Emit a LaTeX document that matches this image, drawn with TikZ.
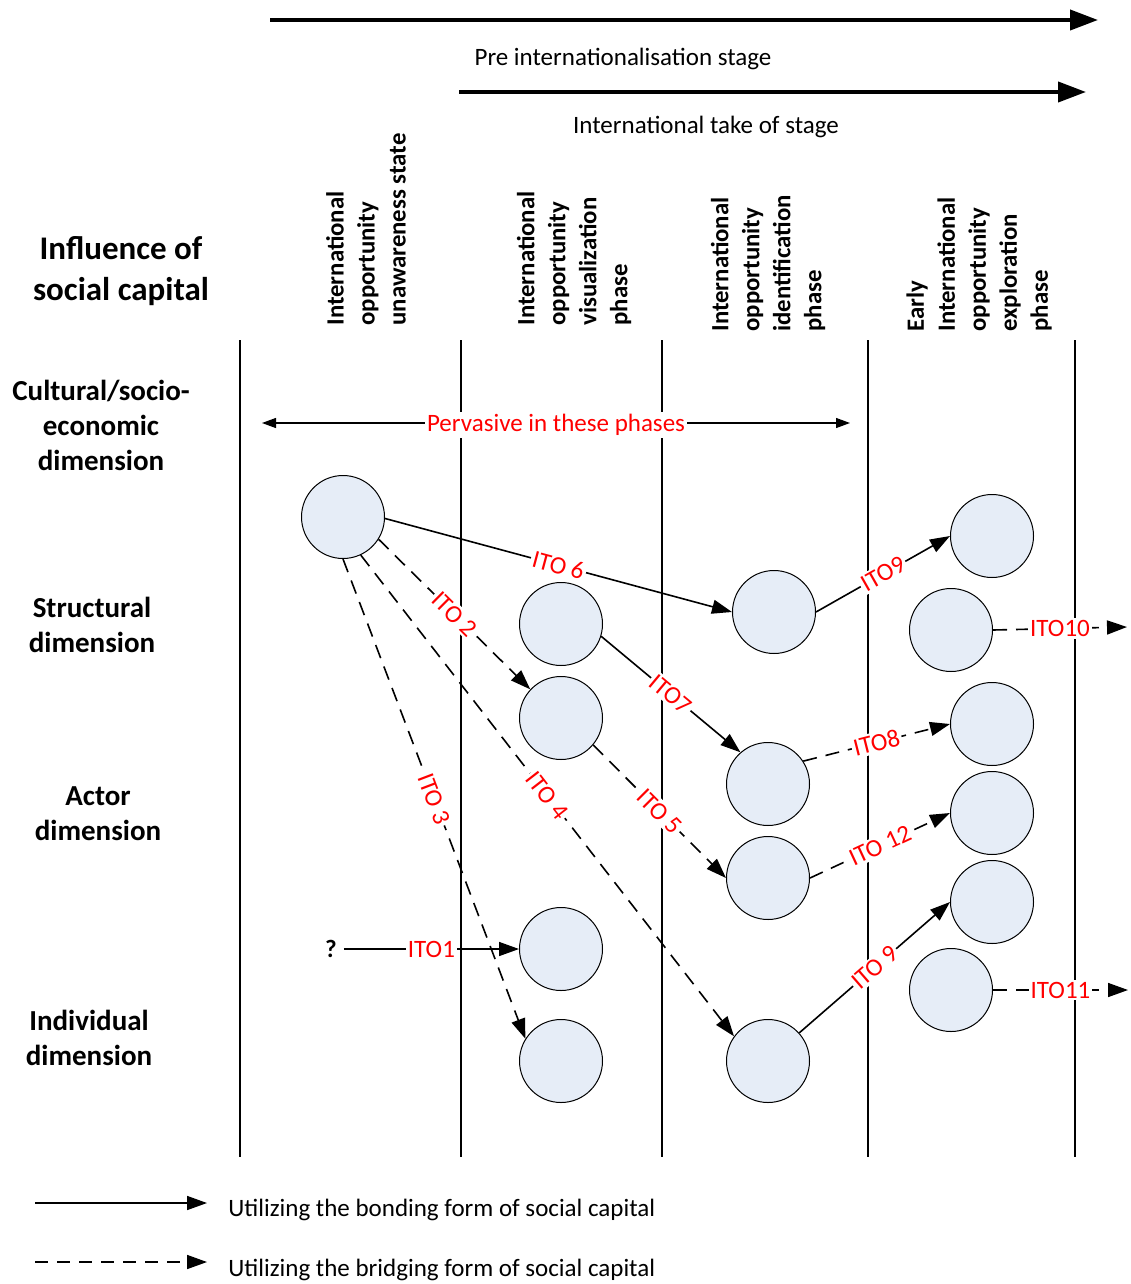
\documentclass[tikz,border=0pt]{standalone}
\usepackage{fontspec}
\setmainfont{Carlito}
\usepackage{xcolor}
\usepackage{tikz}
\usetikzlibrary{arrows.meta,positioning,calc}
\definecolor{bubble}{HTML}{E6EDF7}
\definecolor{itored}{HTML}{FF0000}

\begin{document}
\begin{tikzpicture}[
  x=0.5pt,y=-0.5pt,
  phase/.style={circle,draw,fill=bubble,line width=0.5pt,minimum size=41.5pt,inner sep=0},
  bond/.style={-{Triangle[length=10pt,width=7pt]},line width=0.8pt},
  bridge/.style={bond,dash pattern=on 7pt off 4.5pt},
  lbl/.style={text=itored,fill=white,inner sep=1pt,font=\fontsize{12.5}{15}\selectfont},
  stage/.style={-{Triangle[length=14pt,width=10pt]},line width=2pt},
  dimlbl/.style={align=center,font=\fontsize{14.5}{17.5}\selectfont\bfseries},
  head/.style={rotate=90,anchor=west,align=left,inner sep=0,font=\fontsize{12.4}{15.5}\selectfont\bfseries}
]
\useasboundingbox (0,0) rectangle (1130,1284);

% stages
\coordinate (s1a) at (270,20);
\coordinate (s1b) at (1098,20);
\coordinate (s2a) at (459,92);
\coordinate (s2b) at (1086,92);
\draw[stage] (s1a) -- (s1b);
\draw[stage] (s2a) -- (s2b);
\node[font=\fontsize{12.5}{15}\selectfont] (pre) at (623,59) {Pre internationalisation stage};
\node[font=\fontsize{12.5}{15}\selectfont] (take) at (706,127) {International take of stage};

% headers
\node[align=center,font=\fontsize{16.5}{20.5}\selectfont\bfseries] (title) at (121,271) {Influence of\\social capital};
\node[head] (h1) at (366,326) {International\\opportunity\\unawareness state};
\node[head] (h2) at (574,326) {International\\opportunity\\visualization\\phase};
\node[head] (h3) at (768,332) {International\\opportunity\\identification\\phase};
\node[head] (h4) at (979,332) {Early\\International\\opportunity\\exploration\\phase};

\foreach \x in {240,461,662,868,1075}
  \draw[line width=0.8pt] (\x,340) -- (\x,1157);

% dimensions
\node[dimlbl] (cult) at (101,425) {Cultural/socio-\\economic\\dimension};
\node[dimlbl] (struct) at (92,625) {Structural\\dimension};
\node[dimlbl] (actor) at (98,814) {Actor\\dimension};
\node[dimlbl] (indiv) at (89,1038) {Individual\\dimension};

\coordinate (pl) at (262,423);
\coordinate (pr) at (850,423);
\draw[{Triangle[length=7pt,width=5pt]}-{Triangle[length=7pt,width=5pt]},line width=0.6pt]
  (pl) -- node[lbl,yshift=-1pt] {Pervasive in these phases} (pr);

% phases
\node[phase] (c0) at (343,517) {};
\node[phase] (c1) at (561,624) {};
\node[phase] (c2) at (561,718) {};
\node[phase] (c3) at (561,949) {};
\node[phase] (c4) at (561,1061) {};
\node[phase] (c5) at (774,612) {};
\node[phase] (c6) at (768,784) {};
\node[phase] (c7) at (768,878) {};
\node[phase] (c8) at (768,1061) {};
\node[phase] (c9) at (992,536) {};
\node[phase] (c10) at (951,630) {};
\node[phase] (c11) at (992,724) {};
\node[phase] (c12) at (992,813) {};
\node[phase] (c13) at (992,902) {};
\node[phase] (c14) at (951,990) {};

\node[font=\fontsize{12.5}{15}\selectfont\bfseries] (q) at (331,949) {?};
\coordinate (out10) at (1127,627);
\coordinate (out11) at (1128,990);

% ITO links
\draw[bond] (q) -- node[lbl] {ITO1} (c3);
\draw[bridge] (c0.-32) -- node[lbl,sloped] {ITO 2} (c2.137);
\draw[bridge] (c0.south) -- node[lbl,sloped] {ITO 3} (c4.148);
\draw[bridge] (c0.-65) -- node[lbl,sloped] {ITO 4} (c8.144);
\draw[bridge] (c2.-40) -- node[lbl,sloped] {ITO 5} (c7.west);
\draw[bond] (c0.-2) -- node[lbl,sloped] {ITO 6} (c5.west);
\draw[bond] (c1.-17) -- node[lbl,sloped] {ITO7} (c6.131);
\draw[bridge] (c6.33) -- node[lbl,sloped] {ITO8} (c11.west);
\draw[bond] (c5.east) -- node[lbl,sloped] {ITO9} (c9.west);
\draw[bridge] (c10.east) -- node[lbl] {ITO10} (out10);
\draw[bridge] (c7.east) -- node[lbl,sloped] {ITO 12} (c12.west);
\draw[bond] (c8.42) -- node[lbl,sloped] {ITO 9} (c13.west);
\draw[bridge] (c14.east) -- node[lbl] {ITO11} (out11);

% legend
\coordinate (k1a) at (35,1203);
\coordinate (k1b) at (207,1203);
\coordinate (k2a) at (35,1262);
\coordinate (k2b) at (207,1262);
\draw[bond] (k1a) -- (k1b);
\draw[bond,dash pattern=on 6.5pt off 4.5pt] (k2a) -- (k2b);
\node[anchor=west,inner sep=0,font=\fontsize{12.5}{15}\selectfont] (kt1) at (228,1210) {Utilizing the bonding form of social capital};
\node[anchor=west,inner sep=0,font=\fontsize{12.5}{15}\selectfont] (kt2) at (228,1270) {Utilizing the bridging form of social capital};
\end{tikzpicture}
\end{document}
